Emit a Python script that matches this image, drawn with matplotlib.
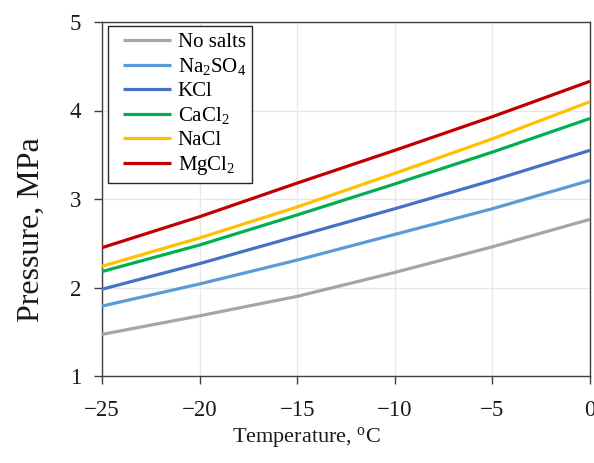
import matplotlib
matplotlib.use("Agg")
import matplotlib.pyplot as plt
from matplotlib.legend_handler import HandlerLine2D

plt.rcParams["font.family"] = ["Liberation Serif", "DejaVu Serif"]
plt.rcParams["mathtext.fontset"] = "custom"
plt.rcParams["mathtext.rm"] = "Liberation Serif"
plt.rcParams["mathtext.it"] = "Liberation Serif:italic"
plt.rcParams["mathtext.bf"] = "Liberation Serif:bold"

# Hydrate equilibrium pressure vs temperature for different salts
temperature = [-25, -20, -15, -10, -5, 0]
p_no_salts = [1.47, 1.68, 1.90, 2.17, 2.46, 2.77]
p_na2so4 = [1.79, 2.04, 2.31, 2.60, 2.89, 3.21]
p_kcl = [1.98, 2.27, 2.58, 2.89, 3.21, 3.55]
p_cacl2 = [2.18, 2.48, 2.82, 3.17, 3.53, 3.91]
p_nacl = [2.24, 2.56, 2.91, 3.29, 3.68, 4.10]
p_mgcl2 = [2.45, 2.80, 3.18, 3.55, 3.93, 4.33]

series = [
    ("No salts", p_no_salts, "#A5A5A5"),
    (r"Na$_2$SO$_4$", p_na2so4, "#5B9BD5"),
    ("KCl", p_kcl, "#4472C4"),
    (r"CaCl$_2$", p_cacl2, "#00B050"),
    ("NaCl", p_nacl, "#FFC000"),
    (r"MgCl$_2$", p_mgcl2, "#C00000"),
]

x_ticks = [-25, -20, -15, -10, -5, 0]
y_ticks = [1, 2, 3, 4, 5]


class IndentedLine(HandlerLine2D):
    """Legend line handle that starts a little in from the left edge."""

    def __init__(self, indent, **kw):
        super().__init__(**kw)
        self.indent = indent

    def create_artists(self, legend, orig_handle, xdescent, ydescent,
                       width, height, fontsize, trans):
        return super().create_artists(legend, orig_handle,
                                      xdescent - self.indent, ydescent,
                                      width - self.indent, height,
                                      fontsize, trans)


W, H = 594, 463
fig = plt.figure(figsize=(W / 100, H / 100), dpi=100)
ax = fig.add_axes([102 / W, 1 - 376 / H, 488 / W, 354 / H])

lines = []
for label, values, color in series:
    ln, = ax.plot(temperature, values, color=color, lw=2.3, label=label,
                  solid_capstyle="butt", zorder=3)
    lines.append(ln)

ax.set_xlim(-25, 0)
ax.set_ylim(1, 5)
ax.set_xticks(x_ticks)
ax.set_yticks(y_ticks)
ax.grid(True, color="#E8E8E8", lw=1.0, zorder=0)
ax.set_axisbelow(True)

for side in ["left", "bottom", "top", "right"]:
    ax.spines[side].set_color("#404040")
    ax.spines[side].set_linewidth(1.0)

ax.tick_params(axis="both", direction="out", length=6, width=1.0,
               color="#404040", labelsize=16.5, labelcolor="#1a1a1a")
ax.tick_params(axis="x", pad=11)
ax.tick_params(axis="y", pad=9)

fig.text(306 / W, 1 - 437 / H, r"Temperature, $^{\rm o}$C", fontsize=16,
         color="#1a1a1a", ha="center", va="center")
fig.text(31 / W, 1 - 230 / H, "Pressure, MPa", fontsize=23, rotation=90,
         color="#1a1a1a", ha="center", va="center")

leg = ax.legend(loc="upper left", bbox_to_anchor=(0.012, 0.988), borderaxespad=0,
                fontsize=15, handlelength=2.75, handletextpad=0.3,
                labelspacing=0.2, frameon=True, fancybox=False,
                borderpad=0.3,
                handler_map={ln: IndentedLine(6.5) for ln in lines})
leg.get_frame().set_edgecolor("#262626")
leg.get_frame().set_linewidth(1.0)
leg.get_frame().set_alpha(1)

fig.savefig("out.png", dpi=100)
